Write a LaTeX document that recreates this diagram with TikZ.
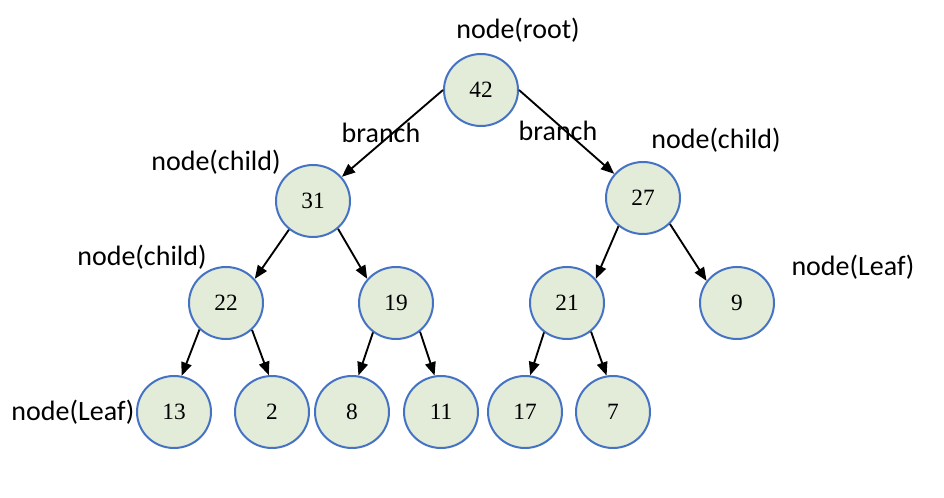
\documentclass[tikz,border=0pt]{standalone}
\usepackage{fontspec}
\setmainfont{Liberation Serif}
\newfontfamily\lblfont{Carlito}
\usetikzlibrary{arrows.meta,shapes.geometric}
\definecolor{nodefill}{HTML}{E3ECD9}
\definecolor{nodeline}{HTML}{4472C4}
\begin{document}
\begin{tikzpicture}[x=0.75pt,y=-0.75pt,
  tnode/.style={ellipse,draw=nodeline,fill=nodefill,line width=1.5pt,
    minimum width=55.5pt,minimum height=54pt,inner sep=0pt,
    font=\fontsize{17.5}{20}\selectfont},
  lbl/.style={font=\lblfont\fontsize{21}{24}\selectfont,inner sep=0pt},
  edge/.style={line width=1.4pt,-{Triangle[length=10pt,width=8pt]}}]
\useasboundingbox (0,0) rectangle (944,498);
% nodes
\node[tnode] (n42) at (481,90) {42};
\node[tnode] (n31) at (313,201) {31};
\node[tnode] (n27) at (643,198) {27};
\node[tnode] (n22) at (226,303) {22};
\node[tnode] (n19) at (396,303) {19};
\node[tnode] (n21) at (567,303) {21};
\node[tnode] (n9) at (737,303) {9};
\node[tnode] (n13) at (174,412) {13};
\node[tnode] (n2) at (272,412) {2};
\node[tnode] (n8) at (352,412) {8};
\node[tnode] (n11) at (441,412) {11};
\node[tnode] (n17) at (525,412) {17};
\node[tnode] (n7) at (613,412) {7};
% labels
\node[lbl] (lroot) at (518,30) {node(root)};
\node[lbl] (lbl1) at (381,133) {branch};
\node[lbl] (lbr1) at (558,131) {branch};
\node[lbl] (lchr) at (716,140) {node(child)};
\node[lbl] (lchl1) at (216,162) {node(child)};
\node[lbl] (lchl2) at (142,257) {node(child)};
\node[lbl] (lleafr) at (853,267) {node(Leaf)};
\node[lbl] (lleafl) at (73,412) {node(Leaf)};
% edges
\draw[edge] (n42.180) -- (n31.40);
\draw[edge] (n42.0) -- (n27.140);
\draw[edge] (n31.230) -- (n22.40);
\draw[edge] (n31.-48) -- (n19.140);
\draw[edge] (n27.229) -- (n21.40);
\draw[edge] (n27.-44) -- (n9.144);
\draw[edge] (n22.225) -- (n13.78);
\draw[edge] (n22.-46) -- (n2.95);
\draw[edge] (n19.232) -- (n8.80);
\draw[edge] (n19.-50) -- (n11.100);
\draw[edge] (n21.232) -- (n17.82);
\draw[edge] (n21.-50) -- (n7.100);
\end{tikzpicture}
\end{document}
